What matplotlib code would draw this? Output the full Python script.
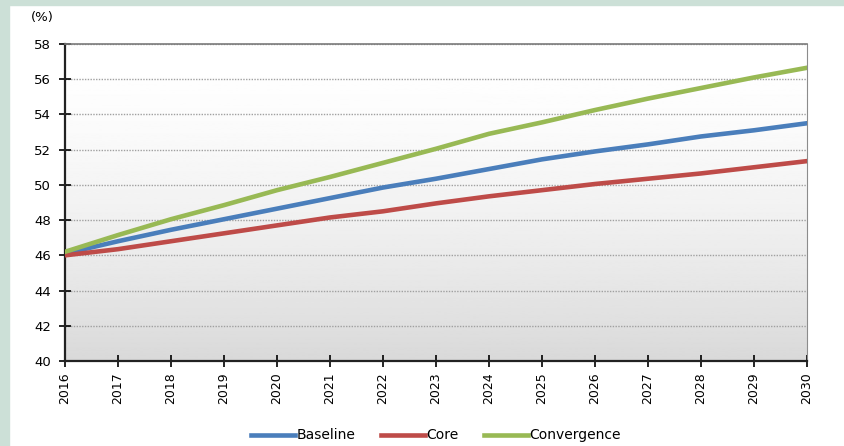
import matplotlib
matplotlib.use("Agg")
from matplotlib import pyplot as plt
from matplotlib.patches import Rectangle
import numpy as np

years = list(range(2016, 2031))
baseline = [46.1, 46.8, 47.45, 48.05, 48.65, 49.25, 49.85, 50.35, 50.9, 51.45, 51.9, 52.3, 52.75, 53.1, 53.5]
core = [46.0, 46.35, 46.8, 47.25, 47.7, 48.15, 48.5, 48.95, 49.35, 49.7, 50.05, 50.35, 50.65, 51.0, 51.35]
convergence = [46.2, 47.15, 48.05, 48.85, 49.7, 50.45, 51.25, 52.05, 52.9, 53.55, 54.25, 54.9, 55.5, 56.1, 56.65]

fig = plt.figure(figsize=(8.45, 4.46), dpi=100)
fig.patch.set_facecolor("white")

# light green frame strips (left and top)
fig.add_artist(Rectangle((0, 0), 9 / 845, 1, transform=fig.transFigure, color="#cce0d7", zorder=0))
fig.add_artist(Rectangle((0, 1 - 5 / 446), 1, 5 / 446, transform=fig.transFigure, color="#cce0d7", zorder=0))

ax = fig.add_axes([65 / 845, 85 / 446, 742 / 845, 317 / 446])

# gradient background (white at top -> light gray at bottom, darker near the bottom)
t = np.linspace(0, 1, 256)
grad = (1.0 - 0.15 * t ** 1.6).reshape(-1, 1)
ax.imshow(grad, cmap="gray", vmin=0, vmax=1, aspect="auto", origin="upper",
          extent=[2016, 2030, 40, 58], zorder=0)

ax.plot(years, baseline, color="#4a7ebb", lw=3.3, label="Baseline", zorder=3)
ax.plot(years, core, color="#be4b48", lw=3.3, label="Core", zorder=3)
ax.plot(years, convergence, color="#98b954", lw=3.3, label="Convergence", zorder=3)

ax.set_xlim(2016, 2030)
ax.set_ylim(40, 58)
ax.set_xticks(years)
ax.set_xticklabels([str(y) for y in years], rotation=90, fontsize=9)
ax.set_yticks(range(40, 59, 2))
ax.tick_params(axis="y", labelsize=9.5, direction="inout", length=8, width=1.2, pad=6)
ax.tick_params(axis="x", direction="inout", length=8, width=1.2, pad=4)

ax.grid(axis="y", linestyle=(0, (1, 1)), color="#a0a0a0", lw=1, zorder=1)
ax.set_axisbelow(True)

ax.spines["left"].set_color("#222222")
ax.spines["left"].set_linewidth(1.6)
ax.spines["bottom"].set_color("#222222")
ax.spines["bottom"].set_linewidth(1.6)
ax.spines["right"].set_color("#8c8c8c")
ax.spines["top"].set_color("#7a7a7a")
ax.spines["top"].set_linewidth(1.2)

fig.text(42 / 845, 1 - 18 / 446, "(%)", fontsize=9.5, ha="center", va="center")

ax.legend(loc="center", bbox_to_anchor=(0.5, -0.235), ncol=3, frameon=False,
          fontsize=10, handlelength=3.2, handletextpad=0.1, columnspacing=1.8)

fig.savefig("out.png", dpi=100)
